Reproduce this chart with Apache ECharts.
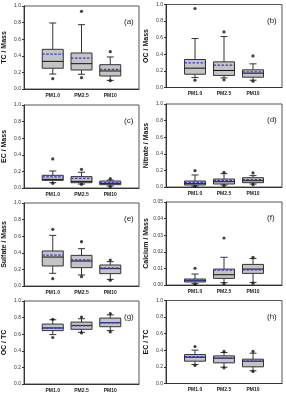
<!DOCTYPE html>
<html>
<head>
<meta charset="utf-8">
<script src="https://cdn.jsdelivr.net/npm/echarts/dist/echarts.min.js"></script>
<style>
  html, body { margin: 0; padding: 0; background: #fff; }
  #main { width: 286px; height: 396px; }
</style>
</head>
<body>
<div id="main"></div>
<script>
// size fractions, x positions 1..3 on a 0..4 axis
var cats = ['PM1.0', 'PM2.5', 'PM10'];

// box rows: [whisker low, q1, median, q3, whisker high]
var tcBox = [[0.18, 0.25, 0.333, 0.478, 0.795], [0.177, 0.229, 0.305, 0.434, 0.775], [0.104, 0.157, 0.217, 0.293, 0.386]];
var tcMean = [0.42, 0.373, 0.237];
var tcOut = [[0.125], [0.936, 0.137], [0.45, 0.10]];

var ocBox = [[0.12, 0.16, 0.233, 0.337, 0.59], [0.116, 0.145, 0.205, 0.309, 0.614], [0.088, 0.124, 0.173, 0.213, 0.285]];
var ocMean = [0.297, 0.269, 0.189];
var ocOut = [[0.952, 0.088], [0.67, 0.092], [0.38, 0.076]];

var ecBox = [[0.064, 0.092, 0.104, 0.153, 0.205], [0.048, 0.064, 0.08, 0.137, 0.19], [0.024, 0.04, 0.056, 0.084, 0.096]];
var ecMean = [0.133, 0.116, 0.064];
var ecOut = [[0.35, 0.056], [0.225, 0.044], [0.112, 0.016]];

var no3Box = [[0.012, 0.024, 0.04, 0.072, 0.145], [0.024, 0.036, 0.064, 0.096, 0.161], [0.036, 0.052, 0.076, 0.112, 0.137]];
var no3Mean = [0.056, 0.08, 0.088];
var no3Out = [[0.197, 0.008], [0.177, 0.016], [0.169, 0.028]];

var so4Box = [[0.153, 0.241, 0.349, 0.422, 0.61], [0.133, 0.221, 0.301, 0.369, 0.45], [0.08, 0.149, 0.209, 0.253, 0.293]];
var so4Mean = [0.373, 0.313, 0.217];
var so4Out = [[0.683, 0.088], [0.534, 0.112], [0.313, 0.068]];

var caBox = [[0.0008, 0.0018, 0.0026, 0.0036, 0.0066], [0.0014, 0.004, 0.0062, 0.0096, 0.0167], [0.0016, 0.007, 0.0096, 0.0124, 0.0159]];
var caMean = [0.003, 0.009, 0.0092];
var caOut = [[0.0101, 0.0004], [0.0283, 0.0008], [0.0167, 0.001]];

var ocTcBox = [[0.595, 0.643, 0.675, 0.722, 0.774], [0.623, 0.659, 0.706, 0.746, 0.786], [0.643, 0.69, 0.738, 0.794, 0.833]];
var ocTcMean = [0.675, 0.702, 0.738];
var ocTcOut = [[0.78, 0.56], [0.806, 0.615], [0.849, 0.627]];

var ecTcBox = [[0.229, 0.269, 0.317, 0.349, 0.402], [0.197, 0.249, 0.305, 0.333, 0.373], [0.153, 0.201, 0.269, 0.293, 0.365]];
var ecTcMean = [0.325, 0.305, 0.269];
var ecTcOut = [[0.446, 0.217], [0.386, 0.189], [0.386, 0.145]];

var panels = [
  { name: 'TC / Mass', tag: '(a)', box: tcBox, mean: tcMean, out: tcOut, max: 1, step: 0.2, dec: 1 },
  { name: 'OC / Mass', tag: '(b)', box: ocBox, mean: ocMean, out: ocOut, max: 1, step: 0.2, dec: 1 },
  { name: 'EC / Mass', tag: '(c)', box: ecBox, mean: ecMean, out: ecOut, max: 1, step: 0.2, dec: 1 },
  { name: 'Nitrate / Mass', tag: '(d)', box: no3Box, mean: no3Mean, out: no3Out, max: 1, step: 0.2, dec: 1 },
  { name: 'Sulfate / Mass', tag: '(e)', box: so4Box, mean: so4Mean, out: so4Out, max: 1, step: 0.2, dec: 1 },
  { name: 'Calcium / Mass', tag: '(f)', box: caBox, mean: caMean, out: caOut, max: 0.05, step: 0.01, dec: 2 },
  { name: 'OC / TC', tag: '(g)', box: ocTcBox, mean: ocTcMean, out: ocTcOut, max: 1, step: 0.2, dec: 1 },
  { name: 'EC / TC', tag: '(h)', box: ecTcBox, mean: ecTcMean, out: ecTcOut, max: 1, step: 0.2, dec: 1 }
];

var colLeft = [23, 166];
var rowTop = [[6, 4.5], [105, 104], [203, 202], [301, 300.5]];
var gw = 116, gh = 83;

function renderBox(params, api) {
  var x = api.value(0);
  var p = [];
  for (var i = 1; i <= 6; i++) p.push(api.coord([x, api.value(i)]));
  var cx = p[0][0], hw = 10.5, cw = 3.5;
  var dark = { stroke: '#333', lineWidth: 1 };
  function ln(x1, y1, x2, y2, st) {
    return { type: 'line', shape: { x1: x1, y1: y1, x2: x2, y2: y2 }, style: st };
  }
  return {
    type: 'group',
    children: [
      ln(cx, p[0][1], cx, p[1][1], dark),
      ln(cx, p[3][1], cx, p[4][1], dark),
      ln(cx - cw, p[0][1], cx + cw, p[0][1], dark),
      ln(cx - cw, p[4][1], cx + cw, p[4][1], dark),
      { type: 'rect', shape: { x: cx - hw, y: p[3][1], width: hw * 2, height: p[1][1] - p[3][1] },
        style: { fill: '#c4c4c4', stroke: '#333', lineWidth: 1 } },
      ln(cx - hw, p[2][1], cx + hw, p[2][1], { stroke: '#111', lineWidth: 1 }),
      ln(cx - hw, p[5][1], cx + hw, p[5][1], { stroke: '#3a3ad6', lineWidth: 1.3, lineDash: [2.5, 1.5] })
    ]
  };
}

var grid = [], xAxis = [], yAxis = [], series = [], title = [];
panels.forEach(function (pn, k) {
  var col = k % 2, row = Math.floor(k / 2);
  var left = colLeft[col], top = rowTop[row][col];
  grid.push({ left: left, top: top, width: gw, height: gh, show: true,
    borderColor: '#555', borderWidth: 1, backgroundColor: 'transparent' });
  xAxis.push({
    type: 'value', gridIndex: k, min: 0, max: 4, interval: 1,
    axisLine: { lineStyle: { color: '#333' } },
    axisTick: { show: false },
    splitLine: { show: false },
    axisLabel: {
      margin: 4, fontSize: 5, fontWeight: 'bold', color: '#222',
      formatter: function (v) { return cats[v - 1] || ''; }
    }
  });
  yAxis.push({
    type: 'value', gridIndex: k, min: 0, max: pn.max, interval: pn.step,
    name: pn.name, nameLocation: 'middle', nameGap: 16,
    nameTextStyle: { fontSize: 7, fontWeight: 'bold', color: '#111' },
    axisLine: { show: true, lineStyle: { color: '#333' } },
    axisTick: { show: true, length: 2, lineStyle: { color: '#333' } },
    splitLine: { show: false },
    axisLabel: {
      margin: 3, fontSize: 5, color: '#333',
      formatter: function (v) { return v.toFixed(pn.dec); }
    }
  });
  var boxData = pn.box.map(function (b, i) {
    return [i + 1].concat(b).concat([pn.mean[i]]);
  });
  series.push({
    type: 'custom', xAxisIndex: k, yAxisIndex: k,
    renderItem: renderBox, data: boxData, silent: true,
    encode: { x: 0, y: [1, 2, 3, 4, 5, 6] }
  });
  var pts = [];
  pn.out.forEach(function (o, i) {
    o.forEach(function (v) { pts.push([i + 1, v]); });
  });
  series.push({
    type: 'scatter', xAxisIndex: k, yAxisIndex: k, data: pts,
    symbolSize: 3.2, itemStyle: { color: '#111' }, silent: true
  });
  title.push({
    text: pn.tag, left: left + gw - 20, top: top + 7,
    textStyle: { fontSize: 8, fontWeight: 'normal', color: '#222' }
  });
});

var chart = echarts.init(document.getElementById('main'), null, { renderer: 'canvas' });
chart.setOption({
  animation: false,
  title: title,
  grid: grid,
  xAxis: xAxis,
  yAxis: yAxis,
  series: series
});
</script>
</body>
</html>
